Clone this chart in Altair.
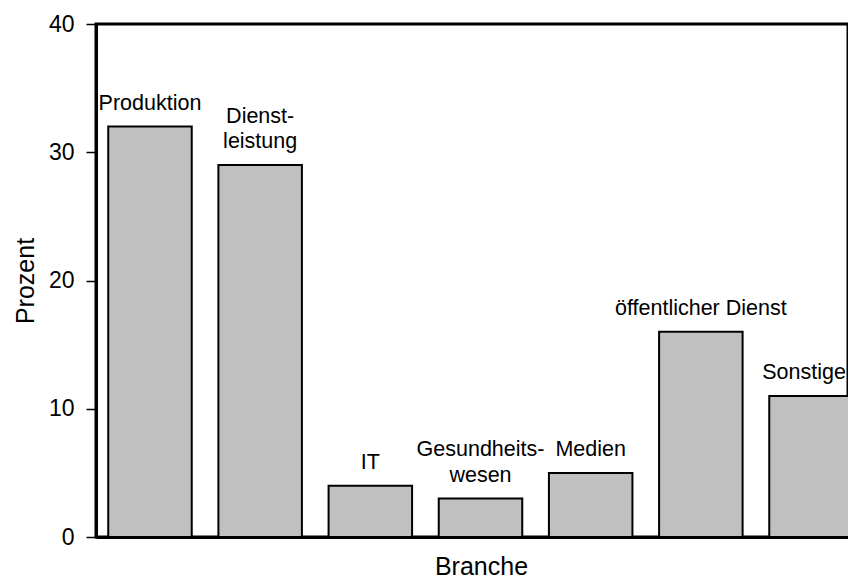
import altair as alt
import pandas as pd

branchen = ["Produktion", "Dienstleistung", "IT", "Gesundheitswesen",
            "Medien", "öffentlicher Dienst", "Sonstige"]
zeile_oben = ["", "Dienst-", "", "Gesundheits-", "", "", ""]
zeile_unten = ["Produktion", "leistung", "IT", "wesen", "Medien",
               "öffentlicher Dienst", "Sonstige"]
prozent = [32, 29, 4, 3, 5, 16, 11]
y_ticks = [0, 10, 20, 30, 40]

df = pd.DataFrame({"Branche": branchen, "Oben": zeile_oben,
                   "Unten": zeile_unten, "Prozent": prozent})

FONT = "Liberation Sans"
LETZTE = branchen[-1]

x_enc = alt.X(
    "Branche:N", sort=branchen, title="Branche",
    scale=alt.Scale(range=[0, 769], paddingInner=0.242, paddingOuter=0.111),
    axis=alt.Axis(labels=False, ticks=False, domainColor="black", domainWidth=3,
                  titleFont=FONT, titleFontSize=25, titleFontWeight="normal",
                  titleColor="black", titleX=385, titleY=37,
                  titleBaseline="alphabetic", titleAlign="center"),
)
y_enc = alt.Y(
    "Prozent:Q", title="Prozent",
    scale=alt.Scale(domain=[0, 40], nice=False),
    axis=alt.Axis(values=y_ticks, grid=False, domainColor="black", domainWidth=3,
                  tickColor="black", tickWidth=1.5, tickSize=10,
                  labelFont=FONT, labelFontSize=23, labelColor="black", labelPadding=12,
                  titleFont=FONT, titleFontSize=25, titleFontWeight="normal",
                  titleColor="black", titleX=-63, titleY=256.5,
                  titleBaseline="alphabetic", titleAlign="center", titleAngle=270),
)

text_style = dict(baseline="alphabetic", align="center", fontSize=21.5,
                  font=FONT, color="black")

bars = alt.Chart().mark_bar(fill="#c0c0c0", stroke="black", strokeWidth=2).encode(
    x=x_enc, y=y_enc
)
text_unten = alt.Chart().mark_text(dy=-17, **text_style).encode(
    x=x_enc, y=y_enc, text="Unten:N"
).transform_filter(alt.datum.Branche != LETZTE)
text_letzte = alt.Chart().mark_text(dy=-17, dx=-7, **text_style).encode(
    x=x_enc, y=y_enc, text="Unten:N"
).transform_filter(alt.datum.Branche == LETZTE)
text_oben = alt.Chart().mark_text(dy=-42.5, **text_style).encode(
    x=x_enc, y=y_enc, text="Oben:N"
)

chart = alt.layer(bars, text_unten, text_letzte, text_oben, data=df).properties(
    width=752, height=513,
    padding={"left": 88, "top": 16, "right": 0, "bottom": 43},
    autosize=alt.AutoSizeParams(type="none"),
    background="white",
).configure_view(stroke="black", strokeWidth=3)

chart.save("out.html", embed_options={"renderer": "svg", "actions": False})
